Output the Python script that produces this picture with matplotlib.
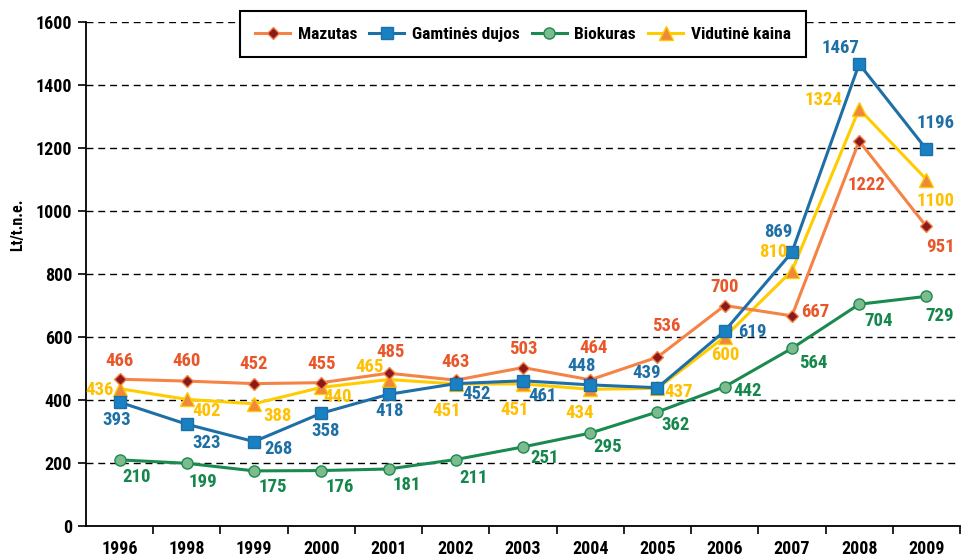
import numpy as np
import matplotlib.pyplot as plt

plt.rcParams['font.family'] = ['Roboto Condensed', 'Liberation Sans', 'DejaVu Sans']
plt.rcParams['font.weight'] = 'bold'

# duomenys
years = ['1996', '1998', '1999', '2000', '2001', '2002', '2003',
         '2004', '2005', '2006', '2007', '2008', '2009']
mazutas = [466, 460, 452, 455, 485, 463, 503, 464, 536, 700, 667, 1222, 951]
dujos = [393, 323, 268, 358, 418, 452, 461, 448, 439, 619, 869, 1467, 1196]
biokuras = [210, 199, 175, 176, 181, 211, 251, 295, 362, 442, 564, 704, 729]
vidutine = [436, 402, 388, 440, 465, 451, 451, 434, 437, 600, 810, 1324, 1100]

# etikečių poslinkiai (px, y žemyn)
off_maz = [(0, -18), (0, -20), (0, -20), (0, -19), (2, -21), (0, -18), (0, -19),
           (3, -32), (9, -31), (0, -19), (23, -4), (7, 44), (14, 21)]
off_duj = [(-3, 18), (20, 19), (24, 7), (4, 18), (1, 17), (21, 10), (20, 15),
           (-9, -19), (-11, -15), (28, 1), (-14, -20), (-19, -16), (9, -26)]
off_bio = [(17, 17), (16, 19), (19, 16), (18, 16), (18, 16), (18, 18), (22, 11),
           (17, 14), (18, 13), (23, 4), (21, 15), (19, 17), (13, 20)]
off_vid = [(-20, 1), (20, 12), (23, 12), (16, 10), (-19, -13), (-9, 27), (-8, 26),
           (-11, 24), (21, 4), (1, 18), (-19, -19), (-36, -9), (9, 22)]

x = np.arange(len(years))

fig = plt.figure(figsize=(9.62, 5.59), dpi=100)
ax = fig.add_axes([86 / 962, 33 / 559, 874 / 962, 504 / 559])

series = [
    (biokuras, 'Biokuras', '#1A8A4F', 'o', '#7DBB8F', '#1A8A4F', 8, off_bio, '#15874C'),
    (vidutine, 'Vidutinė kaina', '#FFCC00', '^', '#F0883A', '#FFCC00', 10, off_vid, '#FFC000'),
    (mazutas, 'Mazutas', '#F58345', 'D', '#8B1A1A', '#F58345', 6, off_maz, '#E8562A'),
    (dujos, 'Gamtinės dujos', '#1E6FA5', 's', '#1A80C4', '#1E6FA5', 8, off_duj, '#1E6FA5'),
]

handles = {}
for vals, name, lc, mk, mfc, mec, ms, offs, tc in series:
    ln, = ax.plot(x, vals, color=lc, lw=2.2, marker=mk, ms=ms, mfc=mfc, mec=mec,
                  mew=1.0, label=name, zorder=3)
    handles[name] = ln
    for xi, v, (dx, dy) in zip(x, vals, offs):
        ax.annotate(str(v), (xi, v), xytext=(dx, -dy), textcoords='offset pixels',
                    ha='center', va='center', color=tc, fontsize=13.5, fontweight='bold',
                    zorder=5)

ax.set_xlim(-0.5, len(years) - 0.5)
ax.set_ylim(0, 1600)
ax.set_yticks(np.arange(0, 1601, 200))
ax.yaxis.grid(True, color='black', ls=(0, (5, 3.5)), lw=1.0)
ax.set_axisbelow(True)

ax.set_xticks(x)
ax.set_xticklabels(years, fontsize=13, fontweight='bold')
ax.set_xticks(np.arange(0.5, len(years), 1), minor=True)
ax.tick_params(axis='x', which='major', length=0, pad=10)
ax.tick_params(axis='x', which='minor', length=6, width=1.2, direction='out')
ax.tick_params(axis='y', length=6, width=1.2, direction='out', labelsize=13, pad=4)
for lbl in ax.get_yticklabels():
    lbl.set_fontweight('bold')

for s in ['top', 'right']:
    ax.spines[s].set_visible(False)
for s in ['left', 'bottom']:
    ax.spines[s].set_linewidth(1.3)

fig.text(18 / 962, 1 - 225 / 559, 'Lt/t.n.e.', rotation=90, ha='center', va='center',
         fontsize=11.5, fontweight='bold')

order = ['Mazutas', 'Gamtinės dujos', 'Biokuras', 'Vidutinė kaina']
leg = ax.legend([handles[n] for n in order], order, loc='upper center',
                bbox_to_anchor=(0.5, 1.022), borderaxespad=0, ncol=4, frameon=True,
                fancybox=False, prop={'size': 12.5, 'weight': 'bold'}, handlelength=2.0,
                columnspacing=0.7, handletextpad=0.45, borderpad=0.9)
leg.get_frame().set_edgecolor('black')
leg.get_frame().set_linewidth(1.5)
leg.get_frame().set_alpha(1)

fig.savefig('out.png', dpi=100)
